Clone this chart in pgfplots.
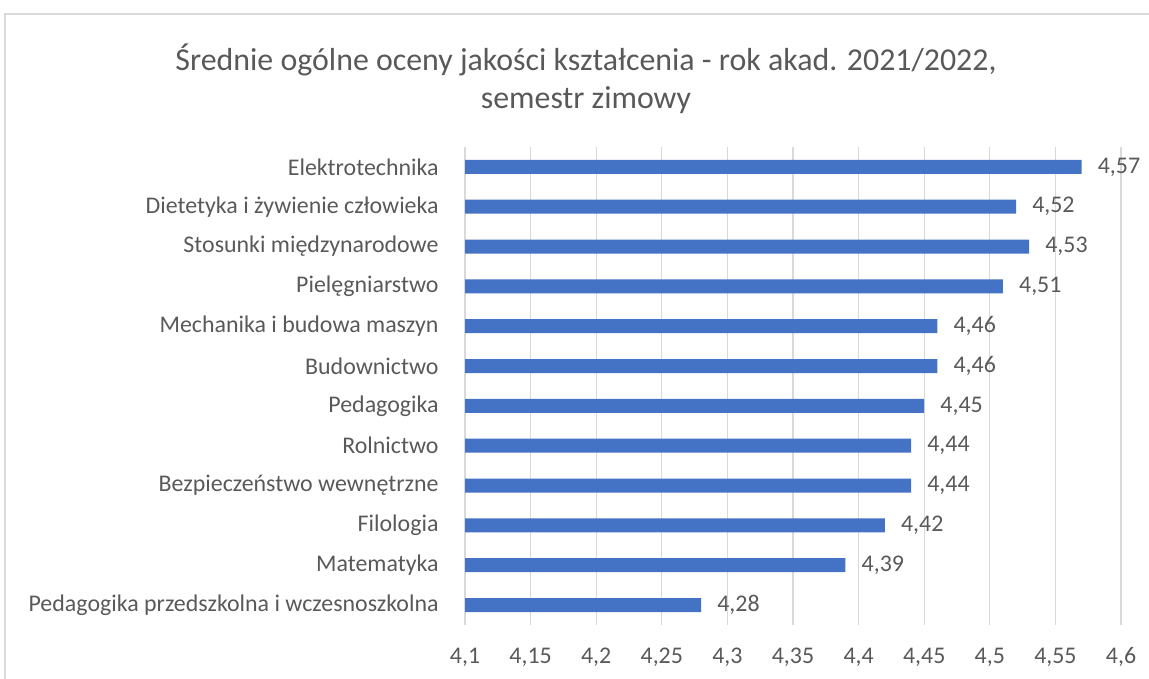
\documentclass[border=0pt]{standalone}
\usepackage{fontspec}
\setmainfont{Carlito}
\usepackage{pgfplots}
\pgfplotsset{compat=1.18}
\definecolor{barblue}{HTML}{4472C4}
\definecolor{gridgray}{HTML}{D9D9D9}
\definecolor{txtgray}{HTML}{595959}
\begin{document}
\begin{tikzpicture}[x=1bp,y=1bp]
\useasboundingbox (0,0) rectangle (1149,679);
\draw[gridgray, line width=1.2bp] (5,-5) -- (5,665) -- (1155,665);
\node[txtgray, font=\fontsize{32}{38}\selectfont, align=center] at (586,600) {Średnie ogólne oceny jakości kształcenia - rok akad. 2021/2022,\\semestr zimowy};
\begin{axis}[at={(465bp,54bp)}, anchor=south west, scale only axis,
  width=656bp, height=478bp,
  xmin=4.1, xmax=4.6, ymin=-0.5, ymax=11.5,
  xbar, bar width=14bp,
  xtick={4.1,4.15,4.2,4.25,4.3,4.35,4.4,4.45,4.5,4.55,4.6},
  xticklabels={{4,1},{4,15},{4,2},{4,25},{4,3},{4,35},{4,4},{4,45},{4,5},{4,55},{4,6}},
  ytick={0,1,2,3,4,5,6,7,8,9,10,11},
  yticklabels={Pedagogika przedszkolna i wczesnoszkolna,Matematyka,Filologia,Bezpieczeństwo wewnętrzne,Rolnictwo,Pedagogika,Budownictwo,Mechanika i budowa maszyn,Pielęgniarstwo,Stosunki międzynarodowe,Dietetyka i żywienie człowieka,Elektrotechnika},
  axis line style={draw=none}, tick style={draw=none},
  xmajorgrids, grid style={gridgray, line width=1.2bp},
  xticklabel style={anchor=center, yshift=-32bp, font=\fontsize{24}{28}\selectfont, text=txtgray},
  yticklabel style={anchor=east, inner sep=0pt, xshift=-22bp, font=\fontsize{24}{28}\selectfont, text=txtgray},
  nodes near coords={\pgfmathprintnumber[assume math mode=true,use comma,fixed,precision=2]{\pgfplotspointmeta}},
  nodes near coords style={anchor=west, inner sep=0pt, xshift=16bp, font=\fontsize{24}{28}\selectfont, text=txtgray},
]
\addplot[fill=barblue, draw=none] coordinates {
(4.28,0) (4.39,1) (4.42,2) (4.44,3) (4.44,4) (4.45,5) (4.46,6) (4.46,7) (4.51,8) (4.53,9) (4.52,10) (4.57,11)
};
\end{axis}
\end{tikzpicture}
\end{document}
